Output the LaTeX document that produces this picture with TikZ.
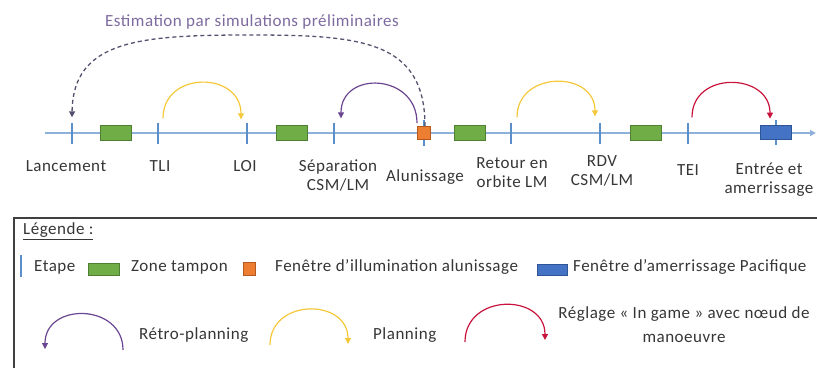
\documentclass[tikz,border=0pt]{standalone}
\usepackage{fontspec}
\setmainfont{Carlito}[LetterSpace=3]
\usepackage{tikz}
\usetikzlibrary{calc,positioning,arrows.meta}
\definecolor{axisblue}{HTML}{8EB1DB}
\definecolor{stageblue}{HTML}{5B8FC9}
\definecolor{buffergreen}{HTML}{70AD47}
\definecolor{buffergreendk}{HTML}{4F7F30}
\definecolor{sunorange}{HTML}{ED7D31}
\definecolor{sunorangedk}{HTML}{B55A1E}
\definecolor{seablue}{HTML}{4472C4}
\definecolor{seabluedk}{HTML}{2F5597}
\definecolor{retropurple}{HTML}{6A4592}
\definecolor{simgray}{HTML}{55506E}
\definecolor{planyellow}{HTML}{F5C83A}
\definecolor{gamered}{HTML}{C8143C}
\definecolor{txtgray}{HTML}{363636}
\definecolor{titlepurple}{HTML}{7D6A9F}

\begin{document}
\begin{tikzpicture}[
    x=1pt, y=-1pt,
    every node/.style={font=\fontsize{17}{19}\selectfont, text=txtgray},
    stage/.style={fill=stageblue, inner sep=0pt, minimum width=1.4pt, minimum height=21pt},
    buffer/.style={fill=buffergreen, draw=buffergreendk, line width=0.8pt, inner sep=0pt,
                   minimum width=31pt, minimum height=15pt},
    sunwin/.style={fill=sunorange, draw=sunorangedk, line width=0.8pt, inner sep=0pt,
                   minimum width=13pt, minimum height=13pt},
    seawin/.style={fill=seablue, draw=seabluedk, line width=0.8pt, inner sep=0pt,
                   minimum width=31pt, minimum height=14pt},
    lbl/.style={align=center, inner sep=0pt},
    retro/.style={retropurple, line width=1.2pt, -{Triangle[length=6pt,width=6pt]}},
    plan/.style={planyellow, line width=1.2pt, -{Triangle[length=6pt,width=6pt]}},
    ingame/.style={gamered, line width=1.2pt, -{Triangle[length=6pt,width=6pt]}},
    simline/.style={simgray, line width=1.3pt, dash pattern=on 4pt off 3pt,
                    -{Triangle[length=6pt,width=6pt,fill=retropurple]}},
]

\useasboundingbox (0,0) rectangle (817,368);

% Timeline
\coordinate (axstart) at (45,133);
\coordinate (axend) at (816,133);
\draw[axisblue, line width=1.5pt, -{Triangle[length=6pt,width=6pt]}] (axstart) -- (axend);

% Stages
\node[stage] (lanc) at (72,133) {};
\node[stage] (tli) at (158,133) {};
\node[stage] (loi) at (247,133) {};
\node[stage] (sep) at (334,133) {};
\node[stage, minimum height=26pt] (alunT) at (424,133) {};
\node[stage] (ret) at (511,133) {};
\node[stage] (rdv) at (600,133) {};
\node[stage] (tei) at (688,133) {};
\node[stage, minimum height=25pt] (entT) at (776,132) {};

% Buffer zones and windows
\node[buffer] (z1) at (116,133) {};
\node[buffer] (z2) at (292,133) {};
\node[buffer] (z3) at (470,133) {};
\node[buffer] (z4) at (646,133) {};
\node[sunwin] (alun) at (424,133) {};
\node[seawin] (entree) at (776,132) {};

% Stage labels
\node[lbl] (lancL) at (66,166) {Lancement};
\node[lbl] (tliL) at (160,166) {TLI};
\node[lbl] (loiL) at (245,166) {LOI};
\node[lbl] (sepL) at (338,175) {Séparation\\CSM/LM};
\node[lbl] (alunL) at (425,177) {Alunissage};
\node[lbl] (retL) at (512,173) {Retour en\\orbite LM};
\node[lbl] (rdvL) at (602,171) {RDV\\CSM/LM};
\node[lbl] (teiL) at (688,170) {TEI};
\node[lbl] (entL) at (769,180) {Entrée et\\amerrissage};

% Arcs over the timeline
\draw[plan] ($(tli.north)+(5,-4)$) .. controls +(0,-48) and +(0,-48) .. ($(loi.north)+(-6,-3)$);
\draw[retro] ($(alun.north)+(-7,-3)$) .. controls +(0,-50) and +(0,-48) .. ($(sep.north)+(7,-4)$);
\draw[plan] ($(ret.north)+(6,-5)$) .. controls +(0,-47) and +(0,-46) .. ($(rdv.north)+(-5,-6)$);
\draw[ingame] ($(tei.north)+(4,-5)$) .. controls +(0,-47) and +(0,-46) .. ($(entree.north)+(-6,-6)$);

% Preliminary simulation estimate
\node[lbl, text=titlepurple] (simL) at (252,22) {Estimation par simulations préliminaires};
\coordinate (simtop) at (250,35);
\draw[simline] ($(alun.north)+(1,0)$) .. controls (425,40) and (360,35) .. (simtop)
  .. controls (140,35) and (73,40) .. ($(lanc.north)+(0,-5)$);

% Legend
\draw[black!75, line width=1.6pt] (14,368) |- (817,218);
\node[lbl, anchor=west] (legT) at (23,231) {\underline{Légende :}};

\node[stage, minimum height=22pt] (legStage) at (21,266) {};
\node[lbl, anchor=west] (legStageL) at (34,267) {Etape};
\node[buffer, minimum height=12pt] (legZone) at (104,269) {};
\node[lbl, anchor=west] (legZoneL) at (131,267) {Zone tampon};
\node[sunwin, minimum width=12pt] (legSun) at (249,269) {};
\node[lbl, anchor=west] (legSunL) at (275,267) {Fenêtre d’illumination alunissage};
\node[seawin, minimum width=30pt, minimum height=11pt] (legSea) at (552,270) {};
\node[lbl, anchor=west] (legSeaL) at (573,267) {Fenêtre d’amerrissage Pacifique};

\coordinate (rpA) at (123,350);
\coordinate (rpB) at (45,349);
\draw[retro] (rpA) .. controls +(0,-47) and +(0,-47) .. (rpB);
\node[lbl, anchor=west] (legRetroL) at (139,335) {Rétro-planning};

\coordinate (plA) at (270,345);
\coordinate (plB) at (348,344);
\draw[plan] (plA) .. controls +(0,-47) and +(0,-46) .. (plB);
\node[lbl, anchor=west] (legPlanL) at (373,335) {Planning};

\coordinate (igA) at (465,342);
\coordinate (igB) at (545,340);
\draw[ingame] (igA) .. controls +(0,-49) and +(0,-47) .. (igB);
\node[lbl] (legGameL) at (684,325) {Réglage « In game » avec nœud de\\[5pt]manoeuvre};

\end{tikzpicture}
\end{document}
